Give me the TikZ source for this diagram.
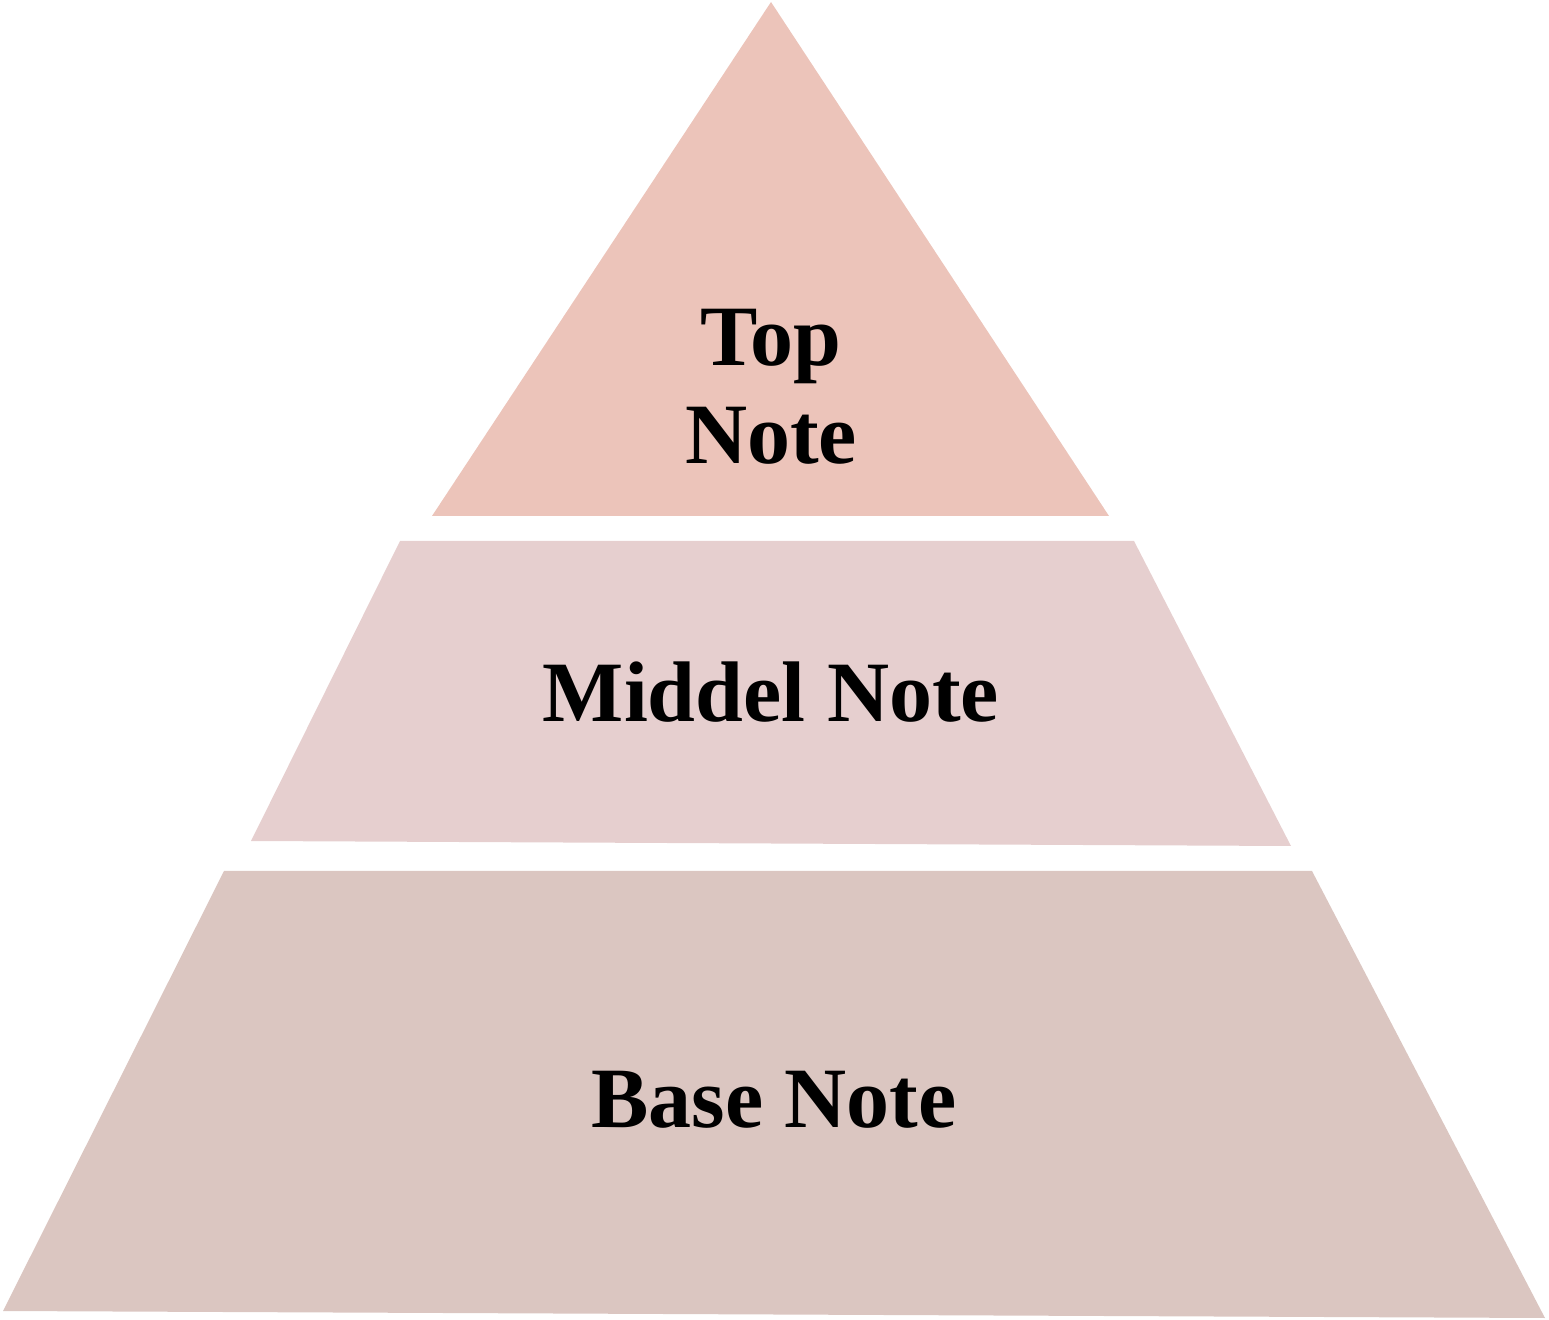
\documentclass[tikz,border=0pt]{standalone}
\usepackage{fontspec}
\setmainfont{Liberation Serif}
\definecolor{topc}{HTML}{ECC4BA}
\definecolor{midc}{HTML}{E6CFCF}
\definecolor{basec}{HTML}{DBC6C1}
\begin{document}
\begin{tikzpicture}[x=0.5pt,y=-0.5pt,
  lbl/.style={font=\fontsize{43}{49}\selectfont\bfseries, text=black, align=center, inner sep=0pt}]
\useasboundingbox (0,0) rectangle (1549,1320);
\fill[topc] (771,2) -- (1109,516) -- (432,516) -- cycle;
\fill[midc] (400,541) -- (1134,541) -- (1291,846) -- (251,841) -- cycle;
\fill[basec] (224,871) -- (1312,871) -- (1545,1318) -- (3,1311) -- cycle;
\node[lbl] (top) at (771,387) {Top\\Note};
\node[lbl, anchor=base] (mid) at (771,722) {Middel Note};
\node[lbl, anchor=base] (base) at (774,1127) {Base Note};
\end{tikzpicture}
\end{document}
